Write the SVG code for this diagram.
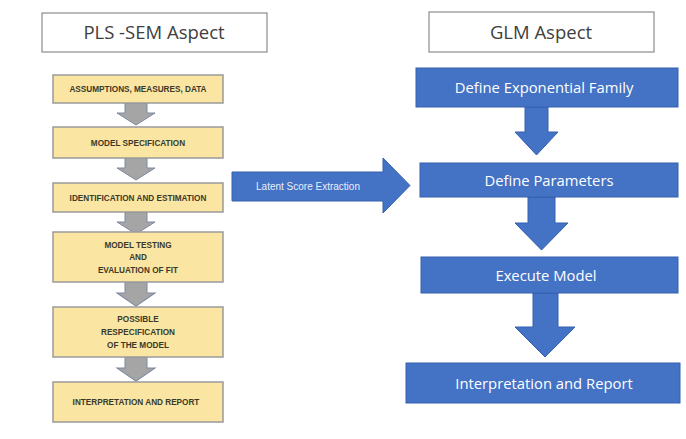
<svg xmlns="http://www.w3.org/2000/svg" width="686" height="439" viewBox="0 0 686 439">
<style>
.title{fill:#fff;stroke:#8c8c8c;stroke-width:1.2}
.ttext{font-family:"Open Sans","Liberation Sans",sans-serif;font-size:18.5px;fill:#404040;text-anchor:middle}
.ybox{fill:#fbe5a2;stroke:#9a9a9a;stroke-width:1.5}
.ytext{font-family:"Liberation Sans",Arial,sans-serif;font-size:8.2px;font-weight:bold;fill:#3a3a2a;text-anchor:middle}
.bbox{fill:#4472c4;stroke:#3560ad;stroke-width:1}
.btext{font-family:"Open Sans","Liberation Sans",sans-serif;font-size:14.8px;fill:#fff;text-anchor:middle}
.garrow{fill:#a5a5a5;stroke:#7f8aa0;stroke-width:1}
.barrow{fill:#4472c4;stroke:#3560ad;stroke-width:1}
.ltext{font-family:"Liberation Sans",Arial,sans-serif;font-size:10px;fill:#e8eefa;text-anchor:middle}
</style>
<defs>
<path id="ga" d="M-11,0 H11 V10 H19 L0,22 L-19,10 H-11 Z"/>
</defs>
<rect width="686" height="439" fill="#fff"/>

<g id="title-pls">
<rect class="title" x="42" y="13" width="225" height="39"/>
<text class="ttext" x="154" y="39">PLS -SEM Aspect</text>
</g>
<g id="title-glm">
<rect class="title" x="429" y="12" width="225" height="40"/>
<text class="ttext" x="541" y="39">GLM Aspect</text>
</g>

<g id="connectors">
<use href="#ga" class="garrow" transform="translate(136,103)"/>
<use href="#ga" class="garrow" transform="translate(136,158)"/>
<use href="#ga" class="garrow" transform="translate(136,212)" />
<use href="#ga" class="garrow" transform="translate(136,282) scale(1,1.1)"/>
<use href="#ga" class="garrow" transform="translate(136,357) scale(1,1.1)"/>
<path class="barrow" d="M525,107 H548 V132 H558 L536.5,155 L515,132 H525 Z"/>
<path class="barrow" d="M528,197 H555 V223 H568 L541.5,250 L515,223 H528 Z"/>
<path class="barrow" d="M533,293 H558 V327 H575 L545,357 L515,327 H533 Z"/>
<g id="latent">
<path class="barrow" d="M232,172 H383 V158 L410,185.5 L383,213 V201 H232 Z"/>
<text class="ltext" x="308" y="189.5">Latent Score Extraction</text>
</g>
</g>

<g id="n1">
<rect class="ybox" x="53" y="75" width="170" height="28"/>
<text class="ytext" x="138" y="92">ASSUMPTIONS, MEASURES, DATA</text>
</g>
<g id="n2">
<rect class="ybox" x="53" y="127" width="170" height="31"/>
<text class="ytext" x="138" y="145.5">MODEL SPECIFICATION</text>
</g>
<g id="n3">
<rect class="ybox" x="53" y="183" width="170" height="29"/>
<text class="ytext" x="138" y="200.5">IDENTIFICATION AND ESTIMATION</text>
</g>
<g id="n4">
<rect class="ybox" x="53" y="232" width="170" height="50"/>
<text class="ytext" x="138" y="248">MODEL TESTING</text>
<text class="ytext" x="138" y="260">AND</text>
<text class="ytext" x="138" y="273">EVALUATION OF FIT</text>
</g>
<g id="n5">
<rect class="ybox" x="53" y="307" width="170" height="50"/>
<text class="ytext" x="138" y="322">POSSIBLE</text>
<text class="ytext" x="138" y="335">RESPECIFICATION</text>
<text class="ytext" x="138" y="348">OF THE MODEL</text>
</g>
<g id="n6">
<rect class="ybox" x="53" y="382" width="170" height="40"/>
<text class="ytext" x="136" y="405">INTERPRETATION AND REPORT</text>
</g>

<g id="b1">
<rect class="bbox" x="416" y="68" width="262" height="39"/>
<text class="btext" x="544" y="93">Define Exponential Family</text>
</g>
<g id="b2">
<rect class="bbox" x="420" y="163" width="258" height="34"/>
<text class="btext" x="549" y="185.5">Define Parameters</text>
</g>
<g id="b3">
<rect class="bbox" x="421" y="257" width="257" height="36"/>
<text class="btext" x="546" y="280.5">Execute Model</text>
</g>
<g id="b4">
<rect class="bbox" x="406" y="363" width="274" height="40"/>
<text class="btext" x="544" y="388.5">Interpretation and Report</text>
</g>
</svg>
